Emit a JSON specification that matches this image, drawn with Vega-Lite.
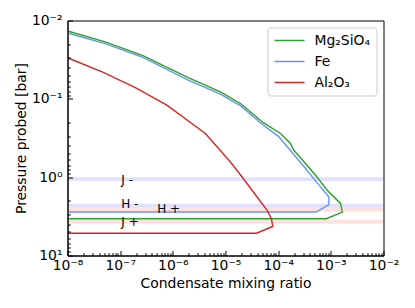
{
  "$schema": "https://vega.github.io/schema/vega-lite/v6.json",
  "width": 316,
  "height": 235,
  "autosize": {"type": "none"},
  "padding": {"left": 67.5, "top": 20.5, "right": 31.5, "bottom": 52.5},
  "background": "white",
  "config": {
    "font": "DejaVu Sans",
    "view": {"stroke": "black", "strokeWidth": 1},
    "axis": {
      "labelFont": "DejaVu Sans", "labelFontSize": 13.9, "labelColor": "black",
      "titleFont": "DejaVu Sans", "titleFontSize": 13.9, "titleFontWeight": "normal", "titleColor": "black",
      "domainColor": "black", "tickColor": "black", "tickWidth": 1, "domainWidth": 1, "grid": false,
      "labelFlush": false, "labelOverlap": false
    }
  },
  "resolve": {"axis": {"x": "independent", "y": "independent"}},
  "datasets": {
    "bands": [
      {"band": "J -", "sign": "-", "lo": 1.0, "hi": 1.12},
      {"band": "H -", "sign": "-", "lo": 2.18, "hi": 2.45},
      {"band": "H +", "sign": "+", "lo": 2.47, "hi": 2.74},
      {"band": "J +", "sign": "+", "lo": 3.5, "hi": 3.93}
    ],
    "labels": [
      {"label": "J -", "x": 1.05e-7, "p": 1.1},
      {"label": "H -", "x": 1.05e-7, "p": 2.21},
      {"label": "H +", "x": 5.05e-7, "p": 2.58},
      {"label": "J +", "x": 1.05e-7, "p": 3.77}
    ],
    "lines": [
      {"species": "Mg₂SiO₄", "i": 0, "x": 1e-8, "p": 0.0136},
      {"species": "Mg₂SiO₄", "i": 1, "x": 5.2e-8, "p": 0.0187},
      {"species": "Mg₂SiO₄", "i": 2, "x": 2.77e-7, "p": 0.0282},
      {"species": "Mg₂SiO₄", "i": 3, "x": 2.0e-6, "p": 0.054},
      {"species": "Mg₂SiO₄", "i": 4, "x": 8.0e-6, "p": 0.0815},
      {"species": "Mg₂SiO₄", "i": 5, "x": 1.92e-5, "p": 0.1146},
      {"species": "Mg₂SiO₄", "i": 6, "x": 5.3e-5, "p": 0.203},
      {"species": "Mg₂SiO₄", "i": 7, "x": 1.11e-4, "p": 0.277},
      {"species": "Mg₂SiO₄", "i": 8, "x": 1.71e-4, "p": 0.372},
      {"species": "Mg₂SiO₄", "i": 9, "x": 1.98e-4, "p": 0.454},
      {"species": "Mg₂SiO₄", "i": 10, "x": 2.57e-4, "p": 0.552},
      {"species": "Mg₂SiO₄", "i": 11, "x": 5.13e-4, "p": 0.946},
      {"species": "Mg₂SiO₄", "i": 12, "x": 8.55e-4, "p": 1.47},
      {"species": "Mg₂SiO₄", "i": 13, "x": 1.535e-3, "p": 2.18},
      {"species": "Mg₂SiO₄", "i": 14, "x": 1.65e-3, "p": 2.79},
      {"species": "Mg₂SiO₄", "i": 15, "x": 8.2e-4, "p": 3.39},
      {"species": "Mg₂SiO₄", "i": 16, "x": 1e-8, "p": 3.39},
      {"species": "Fe", "i": 0, "x": 1e-8, "p": 0.01445},
      {"species": "Fe", "i": 1, "x": 5.2e-8, "p": 0.0197},
      {"species": "Fe", "i": 2, "x": 2.77e-7, "p": 0.0297},
      {"species": "Fe", "i": 3, "x": 1.96e-6, "p": 0.0577},
      {"species": "Fe", "i": 4, "x": 8.0e-6, "p": 0.0871},
      {"species": "Fe", "i": 5, "x": 1.92e-5, "p": 0.122},
      {"species": "Fe", "i": 6, "x": 5.25e-5, "p": 0.217},
      {"species": "Fe", "i": 7, "x": 1.01e-4, "p": 0.301},
      {"species": "Fe", "i": 8, "x": 1.57e-4, "p": 0.428},
      {"species": "Fe", "i": 9, "x": 3.13e-4, "p": 0.741},
      {"species": "Fe", "i": 10, "x": 5.66e-4, "p": 1.21},
      {"species": "Fe", "i": 11, "x": 9.18e-4, "p": 1.79},
      {"species": "Fe", "i": 12, "x": 9.18e-4, "p": 2.24},
      {"species": "Fe", "i": 13, "x": 5.28e-4, "p": 2.79},
      {"species": "Fe", "i": 14, "x": 1e-8, "p": 2.79},
      {"species": "Al₂O₃", "i": 0, "x": 1e-8, "p": 0.0299},
      {"species": "Al₂O₃", "i": 1, "x": 4.8e-8, "p": 0.046},
      {"species": "Al₂O₃", "i": 2, "x": 2.07e-7, "p": 0.0736},
      {"species": "Al₂O₃", "i": 3, "x": 7.7e-7, "p": 0.1205},
      {"species": "Al₂O₃", "i": 4, "x": 4.14e-6, "p": 0.277},
      {"species": "Al₂O₃", "i": 5, "x": 1.24e-5, "p": 0.64},
      {"species": "Al₂O₃", "i": 6, "x": 2.07e-5, "p": 0.995},
      {"species": "Al₂O₃", "i": 7, "x": 3.98e-5, "p": 1.79},
      {"species": "Al₂O₃", "i": 8, "x": 6.18e-5, "p": 2.65},
      {"species": "Al₂O₃", "i": 9, "x": 7.44e-5, "p": 3.39},
      {"species": "Al₂O₃", "i": 10, "x": 7.89e-5, "p": 4.26},
      {"species": "Al₂O₃", "i": 11, "x": 3.87e-5, "p": 5.2},
      {"species": "Al₂O₃", "i": 12, "x": 1e-8, "p": 5.2}
    ]
  },
  "layer": [
    {
      "data": {"name": "bands"},
      "mark": {"type": "rect", "opacity": 0.12},
      "encoding": {
        "y": {"field": "lo", "type": "quantitative", "scale": {"type": "log", "domain": [0.01, 10], "reverse": true, "nice": false}, "axis": null},
        "y2": {"field": "hi"},
        "fill": {"field": "sign", "type": "nominal", "scale": {"domain": ["-", "+"], "range": ["#0000ff", "#ff0000"]}, "legend": null}
      }
    },
    {
      "data": {"name": "lines"},
      "mark": {"type": "line", "strokeWidth": 1.4},
      "encoding": {
        "x": {
          "field": "x", "type": "quantitative",
          "scale": {"type": "log", "domain": [1e-8, 1e-2], "nice": false},
          "axis": {
            "orient": "bottom", "values": [1e-8, 1e-7, 1e-6, 1e-5, 1e-4, 1e-3, 1e-2],
            "labelExpr": "'10' + (round(log(datum.value)/LN10) < 0 ? '⁻' : '') + ['⁰','¹','²','³','⁴','⁵','⁶','⁷','⁸','⁹'][abs(round(log(datum.value)/LN10))]",
            "tickSize": -5, "labelPadding": 8, "title": "Condensate mixing ratio", "titlePadding": 4, "zindex": 2
          }
        },
        "y": {
          "field": "p", "type": "quantitative",
          "scale": {"type": "log", "domain": [0.01, 10], "reverse": true, "nice": false},
          "axis": {
            "orient": "left", "values": [0.01, 0.1, 1, 10],
            "labelExpr": "'10' + (round(log(datum.value)/LN10) < 0 ? '⁻' : '') + ['⁰','¹','²','³','⁴','⁵','⁶','⁷','⁸','⁹'][abs(round(log(datum.value)/LN10))]",
            "tickSize": -5, "labelPadding": 10.5, "title": "Pressure probed [bar]", "titlePadding": 3, "zindex": 2
          }
        },
        "color": {
          "field": "species", "type": "nominal",
          "scale": {"domain": ["Mg₂SiO₄", "Fe", "Al₂O₃"], "range": ["#2ca02c", "#6495ed", "#d62728"]},
          "legend": {
            "title": null, "orient": "top-right", "offset": 7, "padding": 6,
            "strokeColor": "#cccccc", "cornerRadius": 3, "fillColor": "white",
            "symbolType": "stroke", "symbolSize": 900, "symbolStrokeWidth": 1.5,
            "labelFont": "DejaVu Sans", "labelFontSize": 13.9, "labelColor": "black",
            "labelOffset": 9, "rowPadding": 7, "clipHeight": 14
          }
        },
        "order": {"field": "i", "type": "quantitative"}
      }
    },
    {
      "data": {"name": "labels"},
      "mark": {"type": "text", "align": "left", "baseline": "middle", "fontSize": 12, "font": "DejaVu Sans", "color": "black"},
      "encoding": {
        "x": {
          "field": "x", "type": "quantitative",
          "scale": {"type": "log", "domain": [1e-8, 1e-2], "nice": false},
          "axis": {
            "orient": "bottom", "labels": false, "domain": false, "title": null, "tickSize": -2.8, "zindex": 2,
            "values": [2e-8, 3e-8, 4e-8, 5e-8, 6e-8, 7e-8, 8e-8, 9e-8, 2e-7, 3e-7, 4e-7, 5e-7, 6e-7, 7e-7, 8e-7, 9e-7, 2e-6, 3e-6, 4e-6, 5e-6, 6e-6, 7e-6, 8e-6, 9e-6, 2e-5, 3e-5, 4e-5, 5e-5, 6e-5, 7e-5, 8e-5, 9e-5, 2e-4, 3e-4, 4e-4, 5e-4, 6e-4, 7e-4, 8e-4, 9e-4, 2e-3, 3e-3, 4e-3, 5e-3, 6e-3, 7e-3, 8e-3, 9e-3]
          }
        },
        "y": {
          "field": "p", "type": "quantitative",
          "scale": {"type": "log", "domain": [0.01, 10], "reverse": true, "nice": false},
          "axis": {
            "orient": "left", "labels": false, "domain": false, "title": null, "tickSize": -2.8, "zindex": 2,
            "values": [0.02, 0.03, 0.04, 0.05, 0.06, 0.07, 0.08, 0.09, 0.2, 0.3, 0.4, 0.5, 0.6, 0.7, 0.8, 0.9, 2, 3, 4, 5, 6, 7, 8, 9]
          }
        },
        "text": {"field": "label"}
      }
    }
  ]
}
